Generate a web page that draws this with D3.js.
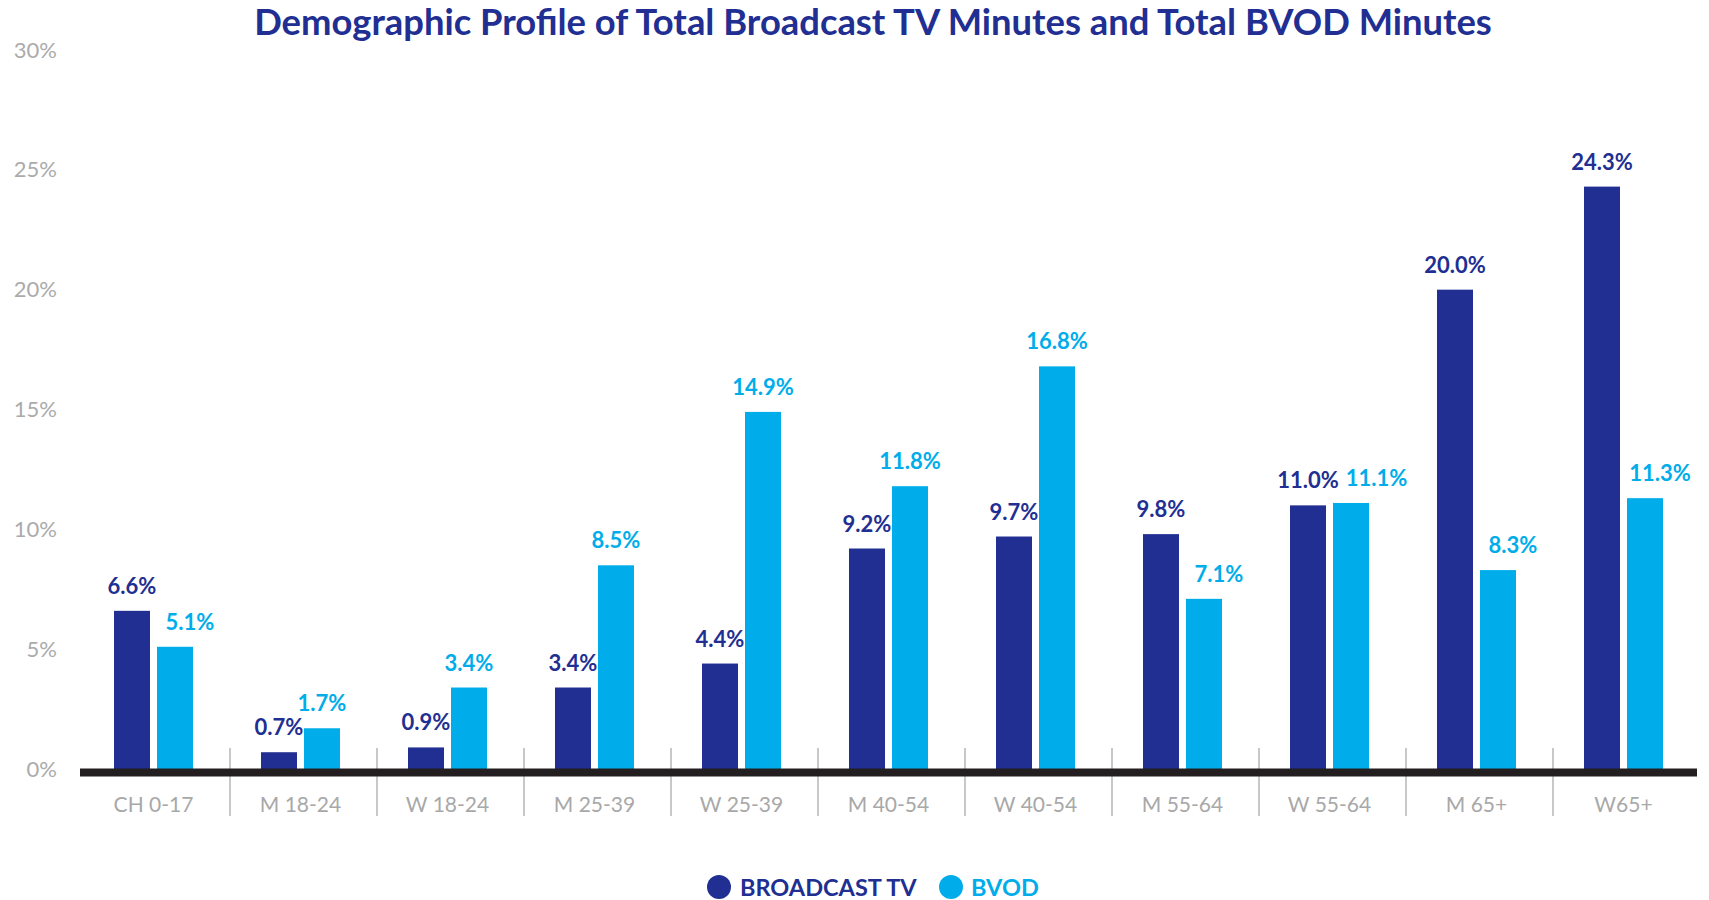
<!DOCTYPE html>
<html>
<head>
<meta charset="utf-8">
<script src="https://cdn.jsdelivr.net/npm/d3@7"></script>
<style>
  html, body { margin: 0; padding: 0; background: #ffffff; }
  svg { display: block; }
  text { font-family: "Lato", "Noto Sans", sans-serif; }
</style>
</head>
<body>
<svg id="chart" width="1709" height="900"></svg>
<script>
const categories = ["CH 0-17", "M 18-24", "W 18-24", "M 25-39", "W 25-39", "M 40-54", "W 40-54", "M 55-64", "W 55-64", "M 65+", "W65+"];
const seriesNames = ["BROADCAST TV", "BVOD"];
const broadcastTV = [6.6, 0.7, 0.9, 3.4, 4.4, 9.2, 9.7, 9.8, 11.0, 20.0, 24.3];
const bvod = [5.1, 1.7, 3.4, 8.5, 14.9, 11.8, 16.8, 7.1, 11.1, 8.3, 11.3];
const yTicks = [0, 5, 10, 15, 20, 25, 30];
const titleText = "Demographic Profile of Total Broadcast TV Minutes and Total BVOD Minutes";

const colors = { "BROADCAST TV": "#212e92", "BVOD": "#00adea" };
const seriesValues = { "BROADCAST TV": broadcastTV, "BVOD": bvod };

const svg = d3.select("#chart");

const x0 = d3.scaleBand().domain(categories).range([80, 1697]);
const x1 = d3.scaleBand().domain(seriesNames).range([34, 113]).paddingInner(0.1628);
const y = d3.scaleLinear().domain([0, 30]).range([769, 50]);

// Title
const title = svg.append("text")
  .attr("x", 873).attr("y", 35)
  .attr("text-anchor", "middle")
  .attr("fill", "#212e92")
  .attr("font-weight", 700)
  .attr("font-size", 34)
  .text(titleText);
const tw = title.node().getComputedTextLength();
title.attr("font-size", 34 * 1238 / tw);

// Y axis labels
const yAxis = d3.axisLeft(y).tickValues(yTicks).tickFormat(d => d + "%").tickSize(0).tickPadding(0);
const yg = svg.append("g").attr("transform", "translate(57,0)").call(yAxis);
yg.select(".domain").remove();
yg.selectAll("text")
  .attr("fill", "#ababab")
  .attr("font-size", 22)
  .attr("font-family", "Lato, 'Noto Sans', sans-serif")
  .attr("dy", "0.32em");

// Bars
const groups = svg.append("g").selectAll("g")
  .data(categories)
  .join("g")
  .attr("transform", d => `translate(${x0(d)},0)`);

groups.selectAll("rect")
  .data((c, i) => seriesNames.map(s => ({ s, v: seriesValues[s][i] })))
  .join("rect")
  .attr("x", d => x1(d.s))
  .attr("width", x1.bandwidth())
  .attr("y", d => y(d.v))
  .attr("height", d => y(0) - y(d.v))
  .attr("fill", d => colors[d.s]);

// Value labels
groups.each(function (c, i) {
  const g = d3.select(this);
  const items = seriesNames.map(s => ({ s, v: seriesValues[s][i] }));
  const texts = g.selectAll("text.val")
    .data(items)
    .join("text")
    .attr("class", "val")
    .attr("x", d => x1(d.s) + x1.bandwidth() / 2)
    .attr("y", d => y(d.v) - 17)
    .attr("text-anchor", "middle")
    .attr("font-weight", 700)
    .attr("font-size", 22)
    .attr("fill", d => colors[d.s])
    .text(d => d.v.toFixed(1) + "%");
  // nudge the BVOD label right when it sits beside a taller broadcast bar or would collide
  const nodes = texts.nodes();
  const wA = nodes[0].getComputedTextLength();
  const wB = nodes[1].getComputedTextLength();
  const cA = x1(seriesNames[0]) + x1.bandwidth() / 2;
  const cB = x1(seriesNames[1]) + x1.bandwidth() / 2;
  const dy = Math.abs(y(items[0].v) - y(items[1].v));
  let shift = 0;
  if (dy < 18) {
    shift = Math.max(0, (cA + wA / 2 + 7) - (cB - wB / 2));
  } else if (items[0].v > items[1].v) {
    shift = 15;
  }
  d3.select(nodes[1]).attr("x", cB + shift);
});

// Category dividers
svg.append("g").selectAll("line")
  .data(categories.slice(1))
  .join("line")
  .attr("x1", d => x0(d) + 3)
  .attr("x2", d => x0(d) + 3)
  .attr("y1", 748).attr("y2", 816)
  .attr("stroke", "#c8c8c8")
  .attr("stroke-width", 2);

// Baseline (x axis)
const xAxis = d3.axisBottom(x0).tickSize(0).tickPadding(0);
const xg = svg.append("g").attr("transform", `translate(0,${y(0)})`).call(xAxis);
xg.select(".domain")
  .attr("d", `M${x0.range()[0]},3.5H${x0.range()[1]}`)
  .attr("stroke", "#231f20")
  .attr("stroke-width", 8);
xg.selectAll(".tick text")
  .attr("y", 43)
  .attr("dy", 0)
  .attr("fill", "#a8a8a8")
  .attr("font-size", 21)
  .attr("font-family", "Lato, 'Noto Sans', sans-serif");

// Legend
const legendData = [
  { s: "BROADCAST TV", cx: 719, tx: 740 },
  { s: "BVOD", cx: 951, tx: 971 }
];
const lg = svg.append("g");
lg.selectAll("circle").data(legendData).join("circle")
  .attr("cx", d => d.cx).attr("cy", 887).attr("r", 12)
  .attr("fill", d => colors[d.s]);
lg.selectAll("text").data(legendData).join("text")
  .attr("x", d => d.tx).attr("y", 896)
  .attr("font-weight", 700)
  .attr("font-size", 23.5)
  .attr("fill", d => colors[d.s])
  .text(d => d.s);
</script>
</body>
</html>
